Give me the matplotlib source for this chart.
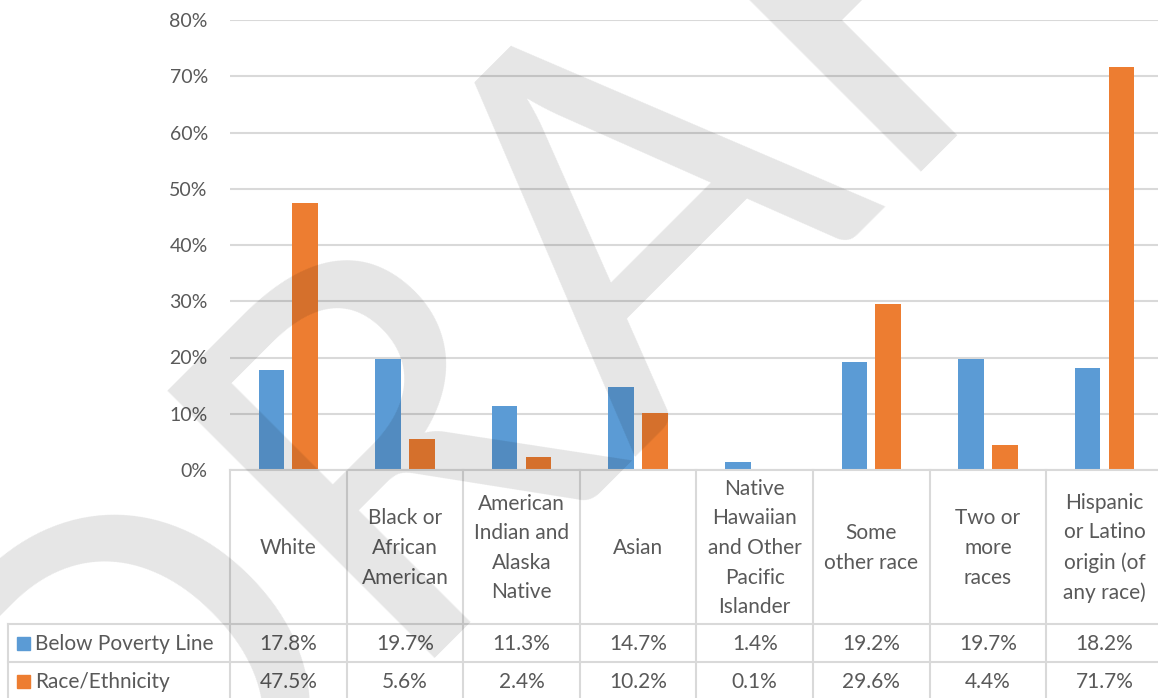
import matplotlib
matplotlib.use("Agg")
import matplotlib.pyplot as plt
from matplotlib.ticker import PercentFormatter
import numpy as np

categories = ["White", "Black or\nAfrican\nAmerican", "American\nIndian and\nAlaska\nNative",
              "Asian", "Native\nHawaiian\nand Other\nPacific\nIslander", "Some\nother race",
              "Two or\nmore\nraces", "Hispanic\nor Latino\norigin (of\nany race)"]
below_poverty = [17.8, 19.7, 11.3, 14.7, 1.4, 19.2, 19.7, 18.2]
race_ethnicity = [47.5, 5.6, 2.4, 10.2, 0.1, 29.6, 4.4, 71.7]
series_names = ["Below Poverty Line", "Race/Ethnicity"]
yticks = [0, 0.1, 0.2, 0.3, 0.4, 0.5, 0.6, 0.7, 0.8]

blue = "#5b9bd5"
orange = "#ed7d31"
text_col = "#595959"
line_col = "#d9d9d9"
plt.rcParams['font.family'] = ['Lato', 'DejaVu Sans']

W, H = 1158, 698
fig = plt.figure(figsize=(W / 100, H / 100), dpi=100)

# pixel layout of the excel-like chart
col_left = 230
col_w = 116.6
plot_top, plot_bot = 20, 470
n = len(categories)

ax = fig.add_axes([col_left / W, 1 - plot_bot / H, n * col_w / W, (plot_bot - plot_top) / H])
x = np.arange(n)
bw = 0.22
ax.bar(x - 0.145, np.array(below_poverty) / 100, bw, color=blue, zorder=2)
ax.bar(x + 0.145, np.array(race_ethnicity) / 100, bw, color=orange, zorder=2)
ax.set_xlim(-0.5, n - 0.5)
ax.set_ylim(0, 0.8)
ax.set_yticks(yticks)
ax.yaxis.set_major_formatter(PercentFormatter(1.0, decimals=0))
ax.set_xticks([])
ax.tick_params(axis='y', length=0, pad=16, labelsize=14, labelcolor=text_col)
ax.grid(axis='y', color=line_col, lw=1.5, zorder=0)
for s in ax.spines.values():
    s.set_visible(False)

# data table below the plot
tb = fig.add_axes([0, 0, 1, 1])
tb.set_xlim(0, W)
tb.set_ylim(H, 0)
tb.axis('off')
row_lab_left = 8
head_bot = 624
row_h = 38
edges = [col_left + i * col_w for i in range(n + 1)]
for e in edges:
    tb.plot([e, e], [plot_bot, H], color=line_col, lw=1.5)
tb.plot([row_lab_left, row_lab_left], [head_bot, H], color=line_col, lw=1.5)
tb.plot([col_left, W], [plot_bot, plot_bot], color=line_col, lw=1.5)
for r in range(2):
    y = head_bot + r * row_h
    tb.plot([row_lab_left, W], [y, y], color=line_col, lw=1.5)

fs = 15
for i, cat in enumerate(categories):
    cx = col_left + (i + 0.5) * col_w
    tb.text(cx, (plot_bot + head_bot) / 2 + 1, cat, ha='center', va='center',
            fontsize=fs, color=text_col, linespacing=1.6)
    for r, vals in enumerate([below_poverty, race_ethnicity]):
        tb.text(cx, head_bot + (r + 0.5) * row_h + 1, f"{vals[i]:.1f}%", ha='center',
                va='center', fontsize=fs, color=text_col)

for r, (name, c) in enumerate(zip(series_names, [blue, orange])):
    cy = head_bot + (r + 0.5) * row_h
    tb.add_patch(plt.Rectangle((17, cy - 6.5), 13, 13, color=c))
    tb.text(35, cy + 1, name, ha='left', va='center', fontsize=fs, color=text_col)

# DRAFT watermark
fig.text(705 / W, 1 - 340 / H, "DRAFT", rotation=45, rotation_mode='anchor',
         ha='center', va='baseline', fontsize=380, fontweight='normal',
         color='black', alpha=0.1, zorder=10)

fig.savefig("out.png", dpi=100)
